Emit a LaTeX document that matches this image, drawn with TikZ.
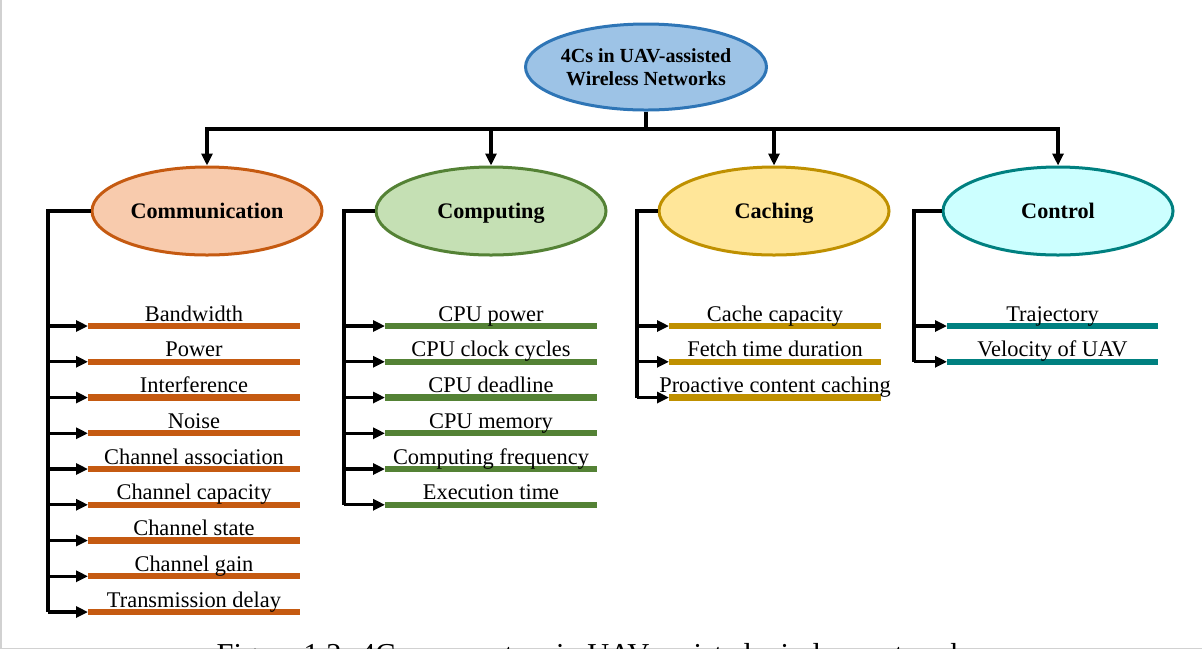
\documentclass[tikz,border=0pt]{standalone}
\usepackage{fontspec}
\setmainfont{Liberation Serif}
\usetikzlibrary{shapes.geometric,arrows.meta,calc}

\definecolor{topfill}{HTML}{9DC3E6}\definecolor{topline}{HTML}{2E75B6}
\definecolor{comfill}{HTML}{F8CBAD}\definecolor{comline}{HTML}{C55A11}
\definecolor{cpufill}{HTML}{C5E0B4}\definecolor{cpuline}{HTML}{548235}
\definecolor{cachfill}{HTML}{FFE699}\definecolor{cachline}{HTML}{BF9000}
\definecolor{ctlfill}{HTML}{CCFFFF}\definecolor{ctlline}{HTML}{008080}

\tikzset{
  oval/.style={ellipse, draw, line width=1.5pt, inner sep=0pt,
    minimum width=115pt, minimum height=44pt,
    font=\bfseries\fontsize{11.1}{13}\selectfont, align=center},
  branch/.style={oval, text height=9.4pt, text depth=2.4pt},
  link/.style={line width=1.6pt, black},
  arr/.style={link, -{Triangle[length=6pt,width=5.5pt]}},
  bar/.style={line width=3.2pt},
  itemtext/.style={anchor=base, inner sep=0pt, font=\fontsize{11.2}{13}\selectfont},
}

\begin{document}
\begin{tikzpicture}[x=0.5pt,y=-0.5pt]
\useasboundingbox (0,0) rectangle (1202,650);

% page frame
\draw[black!18, line width=0.8pt] (0.8,0) -- (0.8,648.6) -- (1202,648.6);

% root and the four branches
\node[oval, fill=topfill, draw=topline, minimum width=116pt, minimum height=43pt,
      font=\bfseries\fontsize{10}{11.5}\selectfont, text depth=0pt] (root) at (646,67)
      {4Cs in UAV-assisted\\Wireless Networks};
\node[branch, fill=comfill, draw=comline] (comm) at (207,211) {Communication};
\node[branch, fill=cpufill, draw=cpuline] (comp) at (491,211) {Computing};
\node[branch, fill=cachfill, draw=cachline] (cach) at (774,211) {Caching};
\node[branch, fill=ctlfill, draw=ctlline] (ctrl) at (1058,211) {Control};

\coordinate (hub) at (646,129);
\draw[link] (root.south) -- (hub);
\foreach \n in {comm,comp,cach,ctrl}
  \draw[arr] (hub) -| (\n.north);

% item lists: parent, spine x, bar left, bar right, colour, items
\newcommand\itemlist[6]{%
  \foreach \t [count=\i] in {#6} {
    \pgfmathsetmacro\yy{326+35.75*(\i-1)}
    \coordinate (#1-s\i) at (#2,\yy);
    \coordinate (#1-l\i) at (#3,\yy);
    \coordinate (#1-r\i) at (#4,\yy);
    \draw[bar, draw=#5] (#1-l\i) -- (#1-r\i);
    \node[itemtext] (#1-t\i) at ($(#1-l\i)!0.5!(#1-r\i)+(0,-5)$) {\t};
    \draw[arr] (#1-s\i) -- (#1-l\i);
    \xdef\lastitem{\i}
  }
  \draw[link] (#1.west) -| (#1-s\lastitem);
}

\itemlist{comm}{48}{88}{300}{comline}{Bandwidth,Power,Interference,Noise,Channel association,Channel capacity,Channel state,Channel gain,Transmission delay}
\itemlist{comp}{344}{385}{597}{cpuline}{CPU power,CPU clock cycles,CPU deadline,CPU memory,Computing frequency,Execution time}
\itemlist{cach}{637}{669}{881}{cachline}{Cache capacity,Fetch time duration,Proactive content caching}
\itemlist{ctrl}{914}{947}{1158}{ctlline}{Trajectory,Velocity of UAV}

% caption running off the lower edge
\begin{scope}
  \clip (0,0) rectangle (1202,648);
  \node[anchor=base, inner sep=0pt, font=\fontsize{15.2}{17}\selectfont] (cap) at (597,664)
    {Figure 1.2: 4Cs parameters in UAV-assisted wireless networks};
\end{scope}
\end{tikzpicture}
\end{document}
